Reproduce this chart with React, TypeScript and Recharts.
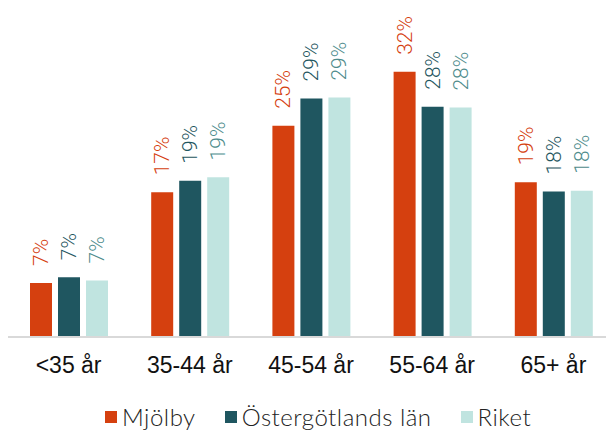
import * as React from "react";
import { BarChart, Bar, XAxis, YAxis, LabelList } from "recharts";

const categories = ["<35 år", "35-44 år", "45-54 år", "55-64 år", "65+ år"];
const mjolby = [6.5, 17.4, 25.4, 31.9, 18.6];
const ostergotland = [7.2, 18.8, 28.7, 27.7, 17.5];
const riket = [6.8, 19.2, 28.8, 27.6, 17.6];

const series = [
  { key: "mjolby", name: "Mjölby", color: "#D5400F", labelColor: "#D5400F" },
  { key: "ostergotland", name: "Östergötlands län", color: "#1F5660", labelColor: "#1F5660" },
  { key: "riket", name: "Riket", color: "#C0E4E0", labelColor: "#4E8C8C" },
];

const data = categories.map((c, i) => ({
  category: c,
  mjolby: mjolby[i],
  ostergotland: ostergotland[i],
  riket: riket[i],
}));

const ARIAL = "'Liberation Sans', Arial, sans-serif";
const LEGEND_FONT = "Lato, 'Noto Sans', sans-serif";

function makeLabel(color: string) {
  return function RotatedLabel(props: any) {
    const { x, y, width, value } = props;
    const cx = x + width / 2;
    const cy = y - 17;
    return (
      <text
        x={cx}
        y={cy}
        transform={`rotate(-90 ${cx} ${cy})`}
        textAnchor="start"
        dominantBaseline="central"
        fill={color}
        fontSize={21}
        fontWeight={300}
        fontFamily="Roboto, sans-serif"
      >
        {`${Math.round(value)}%`}
      </text>
    );
  };
}

function LegendRow() {
  return (
    <div
      style={{
        position: "absolute",
        top: 395,
        left: 97,
        display: "flex",
        alignItems: "center",
        fontFamily: LEGEND_FONT,
        fontWeight: 300,
        fontSize: 24,
        letterSpacing: 0.5,
        color: "#222",
        lineHeight: "28px",
      }}
    >
      {series.map((s) => (
        <div key={s.key} style={{ display: "flex", alignItems: "center", marginRight: 29 }}>
          <span
            style={{ display: "inline-block", width: 12, height: 12, background: s.color, marginRight: 5 }}
          />
          <span>{s.name}</span>
        </div>
      ))}
    </div>
  );
}

export default function App() {
  return (
    <div style={{ position: "relative", width: 606, height: 422 }}>
      <BarChart
        width={606}
        height={380}
        data={data}
        margin={{ top: 38, right: 0, left: 0, bottom: 0 }}
        barSize={22}
        barGap={6}
      >
        <XAxis
          dataKey="category"
          height={51}
          axisLine={{ stroke: "#d9d9d9", strokeWidth: 2 }}
          tickLine={false}
          tickSize={0}
          tickMargin={20}
          tick={{ fontSize: 23, fill: "#111", fontFamily: ARIAL }}
          interval={0}
        />
        <YAxis hide domain={[0, 35]} />
        {series.map((s) => (
          <Bar key={s.key} dataKey={s.key} name={s.name} fill={s.color} isAnimationActive={false}>
            <LabelList dataKey={s.key} content={makeLabel(s.labelColor)} />
          </Bar>
        ))}
      </BarChart>
      <LegendRow />
    </div>
  );
}
